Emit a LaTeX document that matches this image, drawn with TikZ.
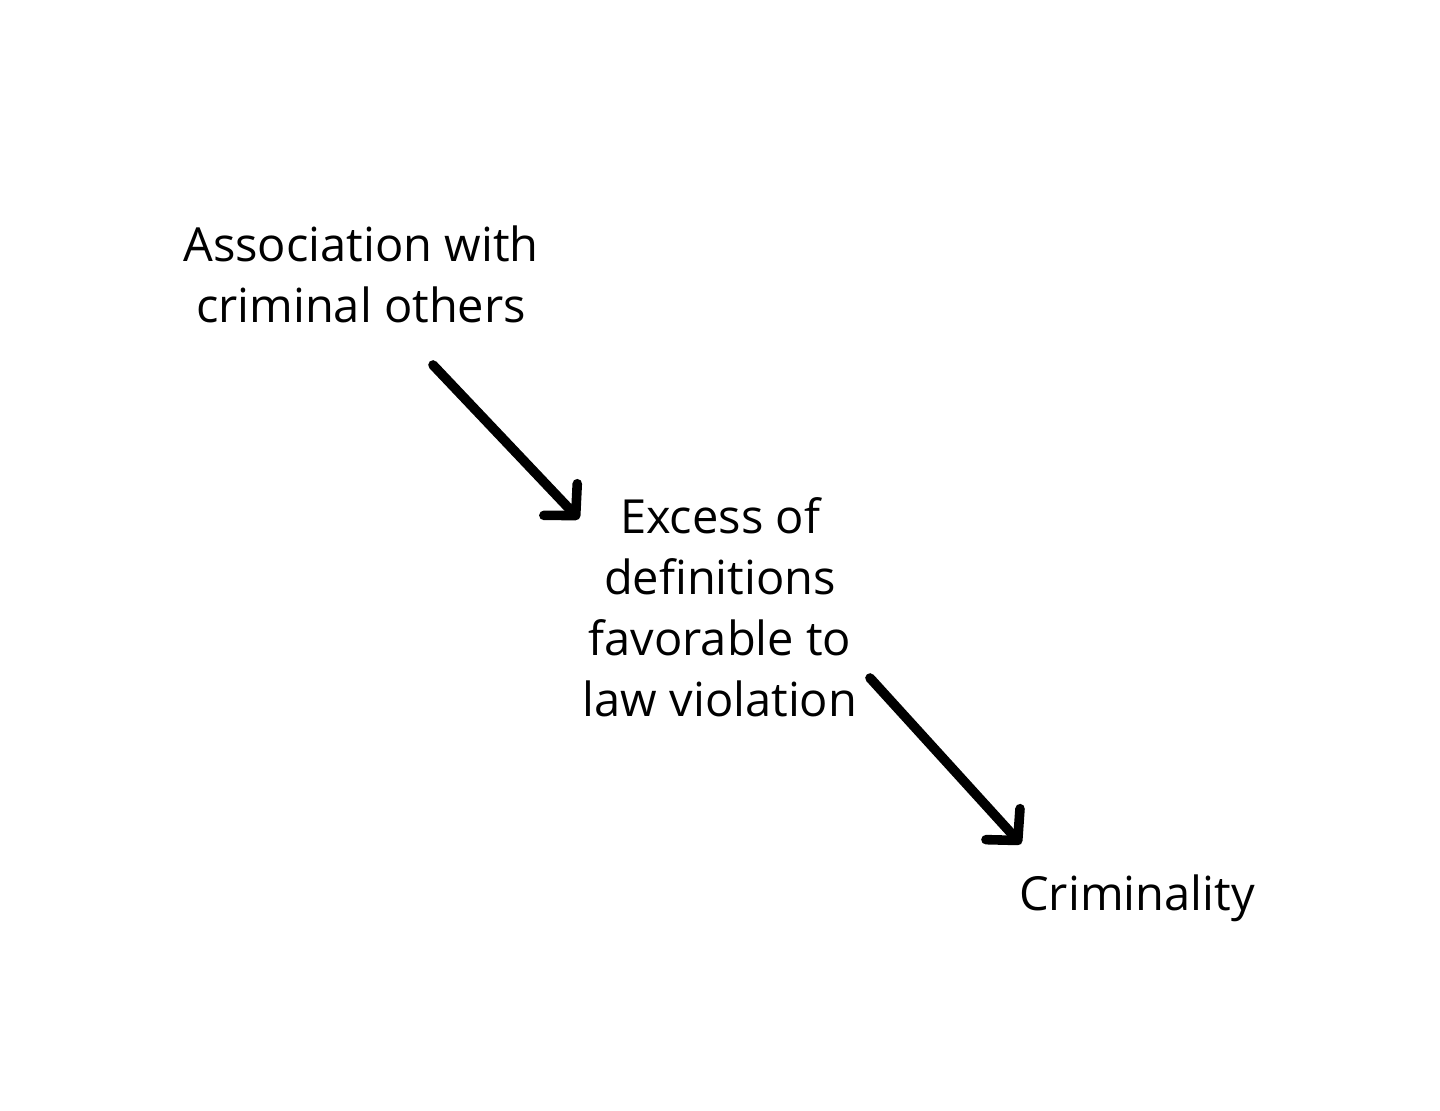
\documentclass[tikz,border=0pt]{standalone}
\usepackage{fontspec}
\setmainfont[Ligatures = NoCommon]{Open Sans}
\usetikzlibrary{arrows.meta, positioning}

\begin{document}
\begin{tikzpicture}[x = 0.5pt, y = -0.5pt,
  label text/.style = {align = center, inner sep = 0pt, font = \fontsize{23.5}{30.5}\selectfont},
  causal/.style = {line width = 4.8pt, line cap = round,
    -{Straight Barb[length = 11pt, width = 23pt, round]}}]

\useasboundingbox (0, 0) rectangle (1440, 1111);

\node[label text] (assoc) at (361, 274) {Association with\\criminal others};
\node[label text] (excess) at (720, 607) {Excess of\\definitions\\favorable to\\law violation};
\node[label text] (crime) at (1137, 898) {Criminality};

% arrow ends
\coordinate (assoc out) at (433, 365);
\coordinate (excess in) at (579, 519);
\coordinate (excess out) at (870, 678);
\coordinate (crime in) at (1021, 844);

\draw[causal] (assoc out) -- (excess in);
\draw[causal] (excess out) -- (crime in);

\end{tikzpicture}
\end{document}
